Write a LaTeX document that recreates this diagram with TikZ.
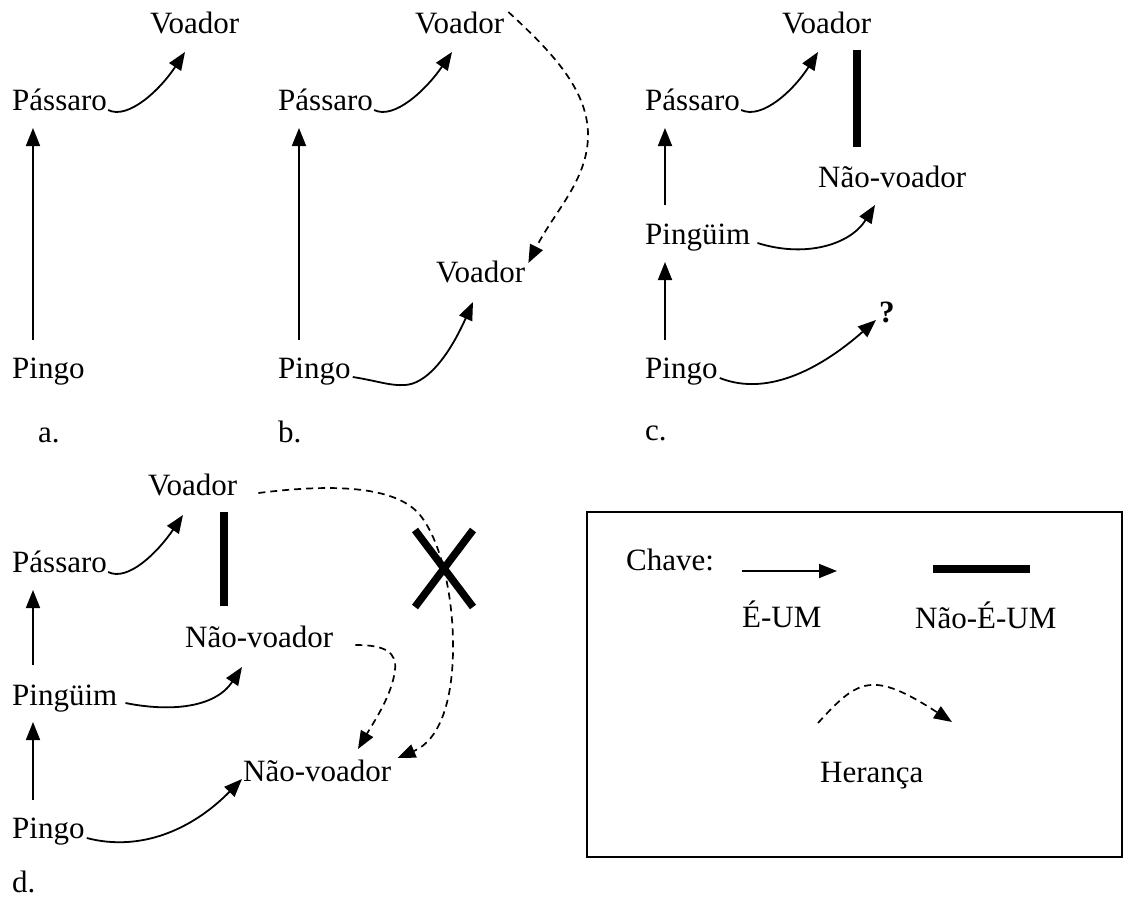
\documentclass[tikz,border=0pt]{standalone}
\usepackage{fontspec}
\setmainfont{Liberation Serif}
\usetikzlibrary{arrows.meta}
\tikzset{
 lbl/.style={anchor=base west, inner sep=0pt, font=\fontsize{31}{36}\selectfont},
 isa/.style={line width=1.8pt, -{Triangle[length=18pt,width=14pt]}},
 inh/.style={line width=1.7pt, dash pattern=on 7pt off 5pt, -{Triangle[length=18pt,width=14pt]}},
 notisa/.style={line width=7.5pt},
 frame/.style={line width=2pt},
}
\begin{document}
\begin{tikzpicture}[x=1pt,y=-1pt]
\useasboundingbox (0,0) rectangle (1124,899);
% ---------- panel a ----------
\node[lbl] (a-voa) at (150,34) {Voador};
\node[lbl] (a-pas) at (12,110) {Pássaro};
\node[lbl] (a-pin) at (12,378) {Pingo};
\node[lbl] (a-lab) at (38,442) {a.};
\draw[isa] ([shift={(21,-38)}]a-pin.base west) -- ([shift={(21,18)}]a-pas.base west);
\draw[isa] ([shift={(1,0)}]a-pas.base east) .. controls (128,120) and (160,90) .. ([shift={(35,18)}]a-voa.base west);
% ---------- panel b ----------
\node[lbl] (b-voa1) at (415,34) {Voador};
\node[lbl] (b-pas) at (278,110) {Pássaro};
\node[lbl] (b-voa2) at (436,282) {Voador};
\node[lbl] (b-pin) at (278,378) {Pingo};
\node[lbl] (b-lab) at (278,442) {b.};
\draw[isa] ([shift={(21,-38)}]b-pin.base west) -- ([shift={(21,18)}]b-pas.base west);
\draw[isa] ([shift={(1,0)}]b-pas.base east) .. controls (394,120) and (426,90) .. ([shift={(37,18)}]b-voa1.base west);
\draw[isa] ([shift={(2,-1)}]b-pin.base east) .. controls (378,381) and (390,386) .. (405,385) .. controls (425,384) and (447,360) .. ([shift={(37,20)}]b-voa2.base west);
\draw[inh] ([shift={(4,-22)}]b-voa1.base east) .. controls (552,52) and (588,90) .. (588,135) .. controls (588,180) and (554,212) .. ([shift={(3,-19)}]b-voa2.base east);
% ---------- panel c ----------
\node[lbl] (c-voa) at (782,34) {Voador};
\node[lbl] (c-pas) at (645,110) {Pássaro};
\node[lbl] (c-nv) at (818,187) {Não-voador};
\node[lbl] (c-ping) at (645,244) {Pingüim};
\node[lbl] (c-pin) at (645,378) {Pingo};
\node[lbl] (c-lab) at (645,440) {c.};
\node[lbl] (c-q) at (879,322) {\textbf{?}};
\draw[isa] ([shift={(20,-39)}]c-ping.base west) -- ([shift={(20,18)}]c-pas.base west);
\draw[isa] ([shift={(20,-38)}]c-pin.base west) -- ([shift={(20,18)}]c-ping.base west);
\draw[notisa] ([shift={(75,16)}]c-voa.base west) -- ([shift={(39,-40)}]c-nv.base west);
\draw[isa] ([shift={(1,0)}]c-pas.base east) .. controls (762,120) and (794,90) .. ([shift={(36,18)}]c-voa.base west);
\draw[isa] ([shift={(7,-1)}]c-ping.base east) .. controls (805,258) and (850,245) .. ([shift={(57,18)}]c-nv.base west);
\draw[isa] ([shift={(2,0)}]c-pin.base east) .. controls (770,398) and (825,365) .. ([shift={(-3,-2)}]c-q.base west);
% ---------- panel d ----------
\node[lbl] (d-voa) at (148,495) {Voador};
\node[lbl] (d-pas) at (12,572) {Pássaro};
\node[lbl] (d-nv1) at (185,647) {Não-voador};
\node[lbl] (d-ping) at (12,705) {Pingüim};
\node[lbl] (d-nv2) at (243,781) {Não-voador};
\node[lbl] (d-pin) at (12,838) {Pingo};
\node[lbl] (d-lab) at (12,892) {d.};
\draw[isa] ([shift={(21,-40)}]d-ping.base west) -- ([shift={(21,18)}]d-pas.base west);
\draw[isa] ([shift={(21,-38)}]d-pin.base west) -- ([shift={(21,17)}]d-ping.base west);
\draw[notisa] ([shift={(76,17)}]d-voa.base west) -- ([shift={(39,-41)}]d-nv1.base west);
\draw[isa] ([shift={(1,0)}]d-pas.base east) .. controls (128,582) and (158,552) .. ([shift={(35,20)}]d-voa.base west);
\draw[isa] ([shift={(8,-2)}]d-ping.base east) .. controls (170,712) and (215,708) .. ([shift={(57,20)}]d-nv1.base west);
\draw[isa] ([shift={(2,0)}]d-pin.base east) .. controls (140,852) and (192,830) .. ([shift={(-1,-2)}]d-nv2.base west);
\draw[inh] ([shift={(22,-2)}]d-nv1.base east) .. controls (385,645) and (397,652) .. (395,670) .. controls (392,695) and (375,720) .. ([shift={(115,-32)}]d-nv2.base west);
\draw[inh] ([shift={(21,-2)}]d-voa.base east) .. controls (330,484) and (395,485) .. (420,515) .. controls (440,540) and (452,590) .. (453,640) .. controls (454,700) and (440,740) .. ([shift={(6,-23)}]d-nv2.base east);
\draw[notisa] (415,530) -- (473,607);
\draw[notisa] (473,530) -- (415,607);
% ---------- legend ----------
\draw[frame] (587,512) rectangle (1122,857);
\node[lbl] (k-chave) at (626,570) {Chave:};
\node[lbl] (k-isa) at (742,627) {É-UM};
\node[lbl] (k-notisa) at (915,628) {Não-É-UM};
\node[lbl] (k-inh) at (820,782) {Herança};
\draw[isa] (742,571) -- (837,571);
\draw[notisa] (933,569) -- (1030,569);
\draw[inh] (818,723) .. controls (858,679) and (872,670) .. (952,722);
\end{tikzpicture}
\end{document}
